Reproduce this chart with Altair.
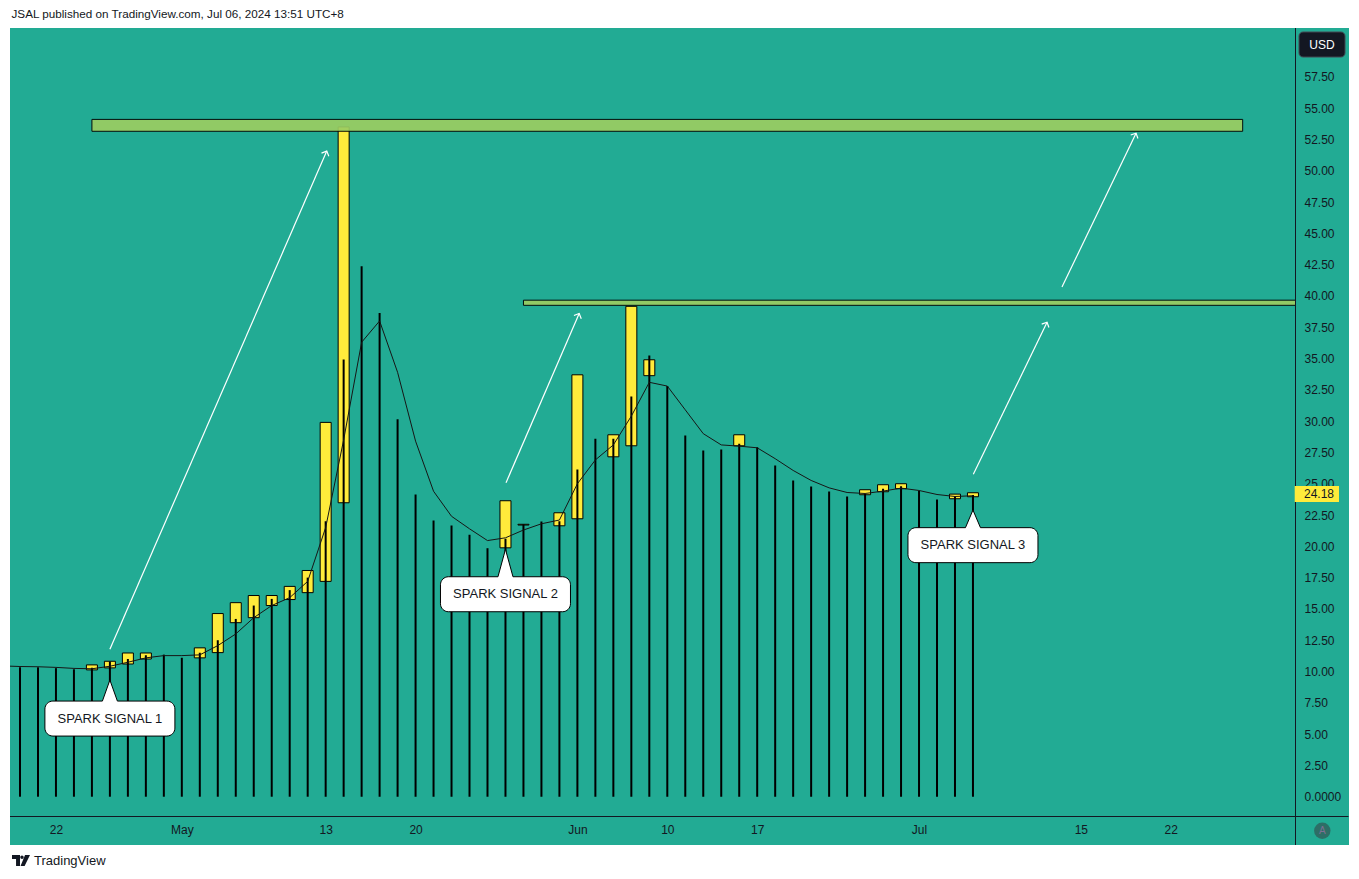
import math
import altair as alt
import pandas as pd

# ---------------- data ----------------
bar_index = list(range(54))
bar_top = [10.34, 10.34, 10.27, 10.18, 10.30, 10.80, 11.00, 11.30, 11.35, 11.10,
           11.50, 12.50, 14.20, 15.27, 15.80, 16.50, 17.50, 22.00, 34.93, 42.37,
           38.63, 30.14, 24.14, 22.06, 21.66, 20.92, 19.85, 20.60, 21.75, 21.98,
           22.00, 26.14, 28.59, 28.59, 31.97, 35.25, 32.80, 28.86, 27.66, 27.74,
           28.19, 27.92, 26.46, 25.26, 24.78, 24.38, 23.98, 24.20, 24.60, 24.80,
           24.41, 23.74, 24.00, 24.10]

candle_index = [4, 5, 6, 7, 10, 11, 12, 13, 14, 15, 16, 17, 18, 27, 28, 30, 31,
                33, 34, 35, 40, 47, 48, 49, 52, 53]
candle_low = [10.13, 10.29, 10.60, 11.00, 11.09, 11.51, 13.90, 14.30, 15.27, 15.75,
              16.30, 17.20, 23.48, 19.88, 21.70, 21.64, 22.20, 27.15, 28.03, 33.63,
              28.03, 24.12, 24.36, 24.60, 23.80, 23.96]
candle_high = [10.53, 10.82, 11.48, 11.48, 11.89, 14.63, 15.50, 16.07, 16.07, 16.80,
               18.07, 29.90, 53.50, 23.64, 21.76, 22.68, 33.70, 28.91, 39.17, 34.90,
               28.91, 24.52, 24.92, 25.00, 24.17, 24.28]

ma_index = list(range(-1, 54))
ma_value = [10.45, 10.40, 10.38, 10.33, 10.25, 10.22, 10.42, 10.74, 11.09, 11.27,
            11.27, 11.33, 12.07, 13.00, 14.30, 15.27, 15.90, 17.20, 21.50, 28.50,
            36.30, 38.00, 33.90, 28.40, 24.40, 22.40, 21.40, 20.46, 20.68, 21.30,
            21.80, 22.10, 25.00, 26.90, 28.10, 30.40, 33.10, 32.80, 30.90, 29.00,
            28.10, 28.00, 27.87, 27.00, 26.06, 25.26, 24.67, 24.30, 24.22, 24.41,
            24.65, 24.46, 24.14, 23.98, 24.04]

zone_start = [4.0, 28.0]
zone_end = [68.0, 80.0]
zone_low = [53.15, 39.25]
zone_high = [54.10, 39.66]

arrow_x0 = [5.0, 27.03, 53.02, 57.95]
arrow_y0 = [11.77, 25.08, 25.75, 40.71]
arrow_x1 = [17.06, 31.10, 57.12, 62.07]
arrow_y1 = [51.57, 38.60, 37.90, 53.00]

callout_index = [5, 27, 53]
callout_tip = [9.32, 19.76, 22.90]
callout_box_top = [7.64, 17.57, 21.49]
callout_text = ["SPARK SIGNAL 1", "SPARK SIGNAL 2", "SPARK SIGNAL 3"]

last_price = [24.18]

x_tick_pos = [2, 9, 17, 22, 31, 36, 41, 50, 59, 64]
x_tick_label = ["22", "May", "13", "20", "Jun", "10", "17", "Jul", "15", "22"]
y_tick_values = [0.0, 2.5, 5.0, 7.5, 10.0, 12.5, 15.0, 17.5, 20.0, 22.5, 25.0, 27.5,
                 30.0, 32.5, 35.0, 37.5, 40.0, 42.5, 45.0, 47.5, 50.0, 52.5, 55.0, 57.5]

header_text = "JSAL published on TradingView.com, Jul 06, 2024 13:51 UTC+8"

# ---------------- layout ----------------
W, H = 1285, 788
X_DOM = [-0.556, 70.91]
Y_DOM = [-1.54, 61.40]
PPB = W / (X_DOM[1] - X_DOM[0])
PPU = H / (Y_DOM[1] - Y_DOM[0])

TEAL = "#22AB94"
INK = "#131722"
FONT = "Liberation Sans"

bars_df = pd.DataFrame({"i": bar_index, "top": bar_top, "base": 0.0})
candles_df = pd.DataFrame({"i": candle_index, "lo": candle_low, "hi": candle_high})
ma_df = pd.DataFrame({"i": ma_index, "ma": ma_value})
zones_df = pd.DataFrame({"x0": zone_start, "x1": zone_end, "lo": zone_low, "hi": zone_high})
arrows_df = pd.DataFrame({"x0": arrow_x0, "y0": arrow_y0, "x1": arrow_x1, "y1": arrow_y1})
arrows_df["ang"] = [
    math.degrees(math.atan2((b - a) * PPB, (d - c) * PPU))
    for a, b, c, d in zip(arrow_x0, arrow_x1, arrow_y0, arrow_y1)
]
callout_df = pd.DataFrame({"i": callout_index, "top": callout_box_top, "label": callout_text})

half = 7.5 / PPB
dd = 1.6 / PPU
prow = []
for k, (ci, tip, top) in enumerate(zip(callout_index, callout_tip, callout_box_top)):
    prow.append({"id": k, "x": ci - half, "y": top, "y2": top - dd})
    prow.append({"id": k, "x": ci, "y": tip, "y2": top - dd})
    prow.append({"id": k, "x": ci + half, "y": top, "y2": top - dd})
pointer_df = pd.DataFrame(prow)
price_df = pd.DataFrame({"p": last_price, "label": [f"{v:.2f}" for v in last_price]})
one = pd.DataFrame({"k": [0]})

x_label_expr = " : ".join(f"datum.value == {p} ? '{l}'" for p, l in zip(x_tick_pos, x_tick_label)) + " : ''"

xs = alt.Scale(domain=X_DOM, nice=False, zero=False, padding=0)
ys = alt.Scale(domain=Y_DOM, nice=False, zero=False, padding=0)
x_axis = alt.Axis(values=x_tick_pos, labelExpr=x_label_expr, grid=False, ticks=False, tickSize=0,
                  domain=False, labelPadding=13, labelBaseline="middle", labelFontSize=12,
                  labelColor=INK, labelFont=FONT, title=None, labelFlush=False, labelOverlap=False)
y_axis = alt.Axis(orient="right", values=y_tick_values,
                  labelExpr="datum.value == 0 ? '0.0000' : format(datum.value, '.2f')",
                  grid=False, ticks=False, tickSize=0, domain=False, labelPadding=9,
                  labelAlign="left", labelBaseline="middle", labelFontSize=12, labelColor=INK,
                  labelFont=FONT, title=None, labelFlush=False, labelOverlap=False)


def X(f):
    return alt.X(f, type="quantitative", scale=xs, axis=x_axis)


def Y(f):
    return alt.Y(f, type="quantitative", scale=ys, axis=y_axis)


# white frame outside the teal panel
w_header = alt.Chart(one).mark_rect(color="white").encode(
    x=alt.value(-2), x2=alt.value(W + 70), y=alt.value(-20), y2=alt.value(0))
w_footer = alt.Chart(one).mark_rect(color="white").encode(
    x=alt.value(-2), x2=alt.value(W + 70), y=alt.value(817), y2=alt.value(H + 60))
w_left = alt.Chart(one).mark_rect(color="white").encode(
    x=alt.value(-2), x2=alt.value(0), y=alt.value(-20), y2=alt.value(H + 60))

candles = alt.Chart(candles_df).mark_bar(size=11, fill="#FFEB3B", stroke="black",
                                          strokeWidth=1, clip=True).encode(
    x=X("i"), y=Y("lo"), y2="hi")
bars = alt.Chart(bars_df).mark_rule(strokeWidth=2, color="black", clip=True).encode(
    x=X("i"), y=Y("base"), y2="top")
ma = alt.Chart(ma_df).mark_line(color="#161616", strokeWidth=1, clip=True).encode(
    x=X("i"), y=Y("ma"))
zones = alt.Chart(zones_df).mark_rect(fill="#9BCD62", stroke="black", strokeWidth=1,
                                      opacity=0.92, clip=True).encode(
    x=X("x0"), x2="x1", y=Y("lo"), y2="hi")
arrows = alt.Chart(arrows_df).mark_rule(color="white", strokeWidth=1.2).encode(
    x=X("x0"), y=Y("y0"), x2="x1", y2="y1")
heads = alt.Chart(arrows_df).mark_point(shape="M-1,1L0,0L1,1", filled=False, color="white",
                                        strokeWidth=1.2, size=64, opacity=1).encode(
    x=X("x1"), y=Y("y1"), angle=alt.Angle("ang:Q", scale=None))

boxes = alt.Chart(callout_df).mark_rect(fill="white", stroke="black", strokeWidth=1,
                                        cornerRadius=8, xOffset=-65, x2Offset=65,
                                        y2Offset=35).encode(
    x=X("i"), x2="i", y=Y("top"), y2="top")
p_fill = alt.Chart(pointer_df).mark_area(fill="white", opacity=1).encode(
    x=X("x"), y=Y("y"), y2="y2", detail="id:N")
p_line = alt.Chart(pointer_df).mark_line(color="black", strokeWidth=1).encode(
    x=X("x"), y=Y("y"), detail="id:N")
c_text = alt.Chart(callout_df).mark_text(fontSize=13, font=FONT, color=INK, dy=17.5,
                                         baseline="middle").encode(
    x=X("i"), y=Y("top"), text="label:N")

axis_v = alt.Chart(one).mark_rule(color=INK, strokeWidth=1).encode(
    x=alt.value(W + 0.5), y=alt.value(0), y2=alt.value(817))
axis_h = alt.Chart(one).mark_rule(color=INK, strokeWidth=1).encode(
    x=alt.value(0), x2=alt.value(1338.5), y=alt.value(H + 0.5))

usd_box = alt.Chart(one).mark_rect(fill="#131722", stroke="#434651", strokeWidth=1,
                                   cornerRadius=4).encode(
    x=alt.value(1289), x2=alt.value(1335), y=alt.value(4), y2=alt.value(29))
usd_txt = alt.Chart(one).mark_text(text="USD", color="white", fontSize=12, font=FONT,
                                   baseline="middle").encode(
    x=alt.value(1312), y=alt.value(16.5))
price_box = alt.Chart(price_df).mark_rect(fill="#FFEB3B", yOffset=-8, y2Offset=8).encode(
    x=alt.value(1284.7), x2=alt.value(1329), y=Y("p"), y2="p")
price_txt = alt.Chart(price_df).mark_text(color=INK, fontSize=12, font=FONT, align="left",
                                          baseline="middle").encode(
    x=alt.value(1294), y=Y("p"), text="label:N")
a_circ = alt.Chart(one).mark_point(filled=True, fill="#2D6E66", size=270, shape="circle",
                                   opacity=1).encode(
    x=alt.value(1312.3), y=alt.value(802.7))
a_txt = alt.Chart(one).mark_text(text="A", color="#7E6F93", fontSize=10, font=FONT,
                                 baseline="middle").encode(
    x=alt.value(1312.3), y=alt.value(803))

head_txt = alt.Chart(one).mark_text(text=header_text, color=INK, fontSize=11.7, font=FONT,
                                    align="left", baseline="middle").encode(
    x=alt.value(1.5), y=alt.value(-14))
logo = alt.Chart(one).mark_point(
    shape="M-1,-0.61H-0.11V0.61H-0.55V-0.17H-1Z M0.3,-0.36A0.19,0.19 0 1 1 -0.08,-0.36A0.19,0.19 0 1 1 0.3,-0.36Z M0.45,-0.61H1L0.4,0.61H-0.05Z",
    filled=True, color=INK, size=324, opacity=1).encode(
    x=alt.value(11), y=alt.value(832.5))
foot_txt = alt.Chart(one).mark_text(text="TradingView", color=INK, fontSize=13, font=FONT,
                                    align="left", baseline="middle").encode(
    x=alt.value(24), y=alt.value(833))

chart = alt.layer(
    w_header, w_footer, w_left,
    candles, bars, ma, zones, arrows, heads,
    boxes, p_fill, p_line, c_text,
    axis_v, axis_h, usd_box, usd_txt, price_box, price_txt, a_circ, a_txt,
    head_txt, logo, foot_txt,
).properties(
    width=W, height=H,
    autosize=alt.AutoSizeParams(type="none"),
    padding={"left": 2, "top": 20, "right": 54, "bottom": 54},
    background=TEAL,
).configure_view(stroke=None)

chart.save("out.html", embed_options={"renderer": "svg", "actions": False})
